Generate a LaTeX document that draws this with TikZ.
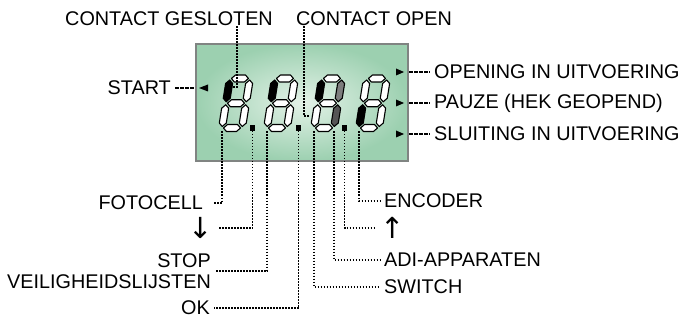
\documentclass[tikz,border=0pt]{standalone}
\usepackage{fontspec}
\setmainfont{Liberation Sans}
\newfontfamily\arrowfont{DejaVu Sans}
\usetikzlibrary{positioning}

\definecolor{lcdin}{RGB}{228,242,232}
\definecolor{lcdout}{RGB}{156,208,176}
\definecolor{lcdframe}{RGB}{128,132,130}
\definecolor{segmid}{RGB}{125,125,125}
\definecolor{segdark}{RGB}{85,85,85}

% one LCD segment in local digit coordinates
\newcommand{\hseg}[4]{\filldraw[seg, fill=#1] (#2,#4) -- ++(3.5,3.5) -- (#3-3.5,#4+3.5) -- (#3,#4) -- (#3-3.5,#4-3.5) -- (#2+3.5,#4-3.5) -- cycle;}
\newcommand{\vseg}[4]{\filldraw[seg, fill=#1] (#2,#3) -- ++(3.5,3.5) -- (#2+3.5,#4-3.5) -- (#2,#4) -- (#2-3.5,#4-3.5) -- (#2-3.5,#3+3.5) -- cycle;}

% seven-segment digit: origin, then fills of a b c d e f g
\newcommand{\lcddigit}[8]{%
  \begin{scope}[shift={#1}, yscale=-1, xslant=-0.16]
    \hseg{#2}{1.5}{18.5}{49.5}
    \vseg{#3}{20}{26.25}{48}
    \vseg{#4}{20}{1.5}{23.25}
    \hseg{#5}{1.5}{18.5}{0}
    \vseg{#6}{0}{1.5}{23.25}
    \vseg{#7}{0}{26.25}{48}
    \hseg{#8}{1.5}{18.5}{24.75}
  \end{scope}}

\begin{document}
\begin{tikzpicture}[x=1pt, y=-1pt,
  lbl/.style={inner xsep=4pt, inner ysep=0pt, font=\fontsize{19.8}{21}\selectfont},
  arw/.style={inner xsep=0pt, inner ysep=0pt, font=\arrowfont\fontsize{29}{30}\selectfont},
  seg/.style={draw=black, line width=1.1pt, line join=round},
  dotline/.style={line width=1.5pt, dash pattern=on 1.5pt off 1.5pt},
  dashline/.style={line width=1.2pt, dash pattern=on 3.5pt off 1.5pt},
  lcd/.style={draw=lcdframe, line width=2.5pt, inner color=lcdin, outer color=lcdout,
    minimum width=212pt, minimum height=117pt}
]
\useasboundingbox (0,0) rectangle (684,320);

% display
\node[lcd] (lcd) at (302,102.5) {};
\lcddigit{(222,128)}{white}{white}{white}{white}{white}{black}{white}
\lcddigit{(267,128)}{white}{white}{white}{white}{white}{black}{white}
\lcddigit{(314,128)}{white}{segmid}{segdark}{white}{white}{black}{white}
\lcddigit{(359,128)}{white}{white}{white}{white}{black}{white}{white}
\fill (250,125) rectangle (255,131);
\fill (296,125) rectangle (301,131);
\fill (342,125) rectangle (347,131);
\fill (199,88) -- (208,84.5) -- (208,91.5) -- cycle;
\foreach \y in {72,103,134}
  \fill (404,\y) -- (396,\y-3.5) -- (396,\y+3.5) -- cycle;

% top labels
\node[lbl] (gesloten) at (169,19) {CONTACT GESLOTEN};
\node[lbl] (open) at (374,19) {CONTACT OPEN};
\coordinate (gsl) at (229,87);
\coordinate (opn) at (309,116);
\draw[dotline] (gesloten.south -| 237,0) |- (gsl);
\draw[dotline] (open.south -| 304,0) |- (opn);

% side labels
\node[lbl, anchor=east] (start) at (175,88) {START};
\node[lbl, anchor=west] (opening) at (430,72) {OPENING IN UITVOERING};
\node[lbl, anchor=west] (pauze) at (430,103) {PAUZE (HEK GEOPEND)};
\node[lbl, anchor=west] (sluiting) at (430,134) {SLUITING IN UITVOERING};
\draw[dashline] (start) -- (start -| lcd.west);
\foreach \n in {opening,pauze,sluiting}
  \draw[dashline] (lcd.east |- \n.west) -- (\n);

% bottom left labels
\node[lbl, anchor=east, inner xsep=10pt] (fotocell) at (213,203) {FOTOCELL};
\node[arw] (down) at (201,228) {↓};
\node[lbl, anchor=east, align=right] (stop) at (215,271) {STOP\\VEILIGHEIDSLIJSTEN};
\node[lbl, anchor=east] (ok) at (214,308) {OK};
\coordinate (fc) at (222,131.5);
\coordinate (dp1) at (252.5,131);
\coordinate (st) at (267,131.5);
\coordinate (dp2) at (298.5,131);
\draw[dotline] (fc) |- (fotocell);
\draw[dotline] (dp1) |- ([xshift=5pt]down.east);
\draw[dotline] (st) |- (stop);
\draw[dotline] (dp2) |- (ok);

% bottom right labels
\node[lbl, anchor=west] (encoder) at (380,201) {ENCODER};
\node[arw] (up) at (393,228) {↑};
\node[lbl, anchor=west] (adi) at (380,260) {ADI-APPARATEN};
\node[lbl, anchor=west] (switch) at (380,287) {SWITCH};
\coordinate (sw) at (314,131.5);
\coordinate (ad) at (334,131.5);
\coordinate (dp3) at (344.5,131);
\coordinate (en) at (359,131.5);
\draw[dotline] (en) |- (encoder);
\draw[dotline] (dp3) |- ([xshift=-5pt]up.west);
\draw[dotline] (ad) |- (adi);
\draw[dotline] (sw) |- (switch);
\end{tikzpicture}
\end{document}
